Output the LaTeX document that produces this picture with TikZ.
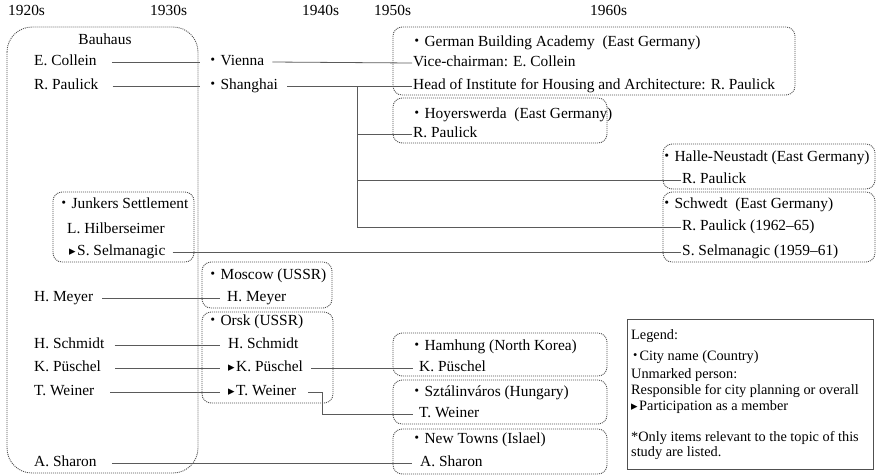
\documentclass[tikz,border=0pt]{standalone}
\usepackage{fontspec}
\setmainfont{Liberation Serif}
\newfontfamily\symfont{DejaVu Sans}
\newfontfamily\cjk{Noto Sans CJK JP}
\usepackage{tikz}
\definecolor{linegray}{RGB}{90,90,90}
\definecolor{boxgray}{RGB}{80,80,80}
\newcommand{\citydot}{{\cjk ・}}
\newcommand{\member}{{\symfont\fontsize{13}{13}\selectfont ▸}\hspace{1.5pt}}
\tikzset{
    every node/.style={inner sep=0pt, anchor=west, text height=10.5pt, text depth=3.5pt, font=\fontsize{15.4}{17}\selectfont},
    legendtext/.style={font=\fontsize{14.3}{16}\selectfont},
    link/.style={draw=linegray, line width=0.8pt},
    citybox/.style={draw=boxgray, line width=0.9pt, dash pattern=on 1pt off 1pt, rounded corners=9pt},
}

\begin{document}
\begin{tikzpicture}[x=1pt, y=-1pt]
    \useasboundingbox (0,0) rectangle (877,475);
% Decades
    \node (d20) at (8,12) {1920s};
    \node (d30) at (150,12) {1930s};
    \node (d40) at (302,12) {1940s};
    \node (d50) at (374,12) {1950s};
    \node (d60) at (590,12) {1960s};
% Boxes
    \draw[citybox, rounded corners=25pt] (7,27) rectangle (198,473);
    \draw[citybox] (53,192) rectangle (194,262);
    \draw[citybox] (393,27) rectangle (795,95);
    \draw[citybox] (393,98) rectangle (607,143);
    \draw[citybox] (663,144) rectangle (875,189);
    \draw[citybox] (663,192) rectangle (875,262);
    \draw[citybox] (202,262) rectangle (332,308);
    \draw[citybox] (202,312) rectangle (333,403);
    \draw[citybox] (393,333) rectangle (607,376);
    \draw[citybox] (393,380) rectangle (607,424);
    \draw[citybox] (393,429) rectangle (607,474);
% Bauhaus
    \node[anchor=center] (bauhaus) at (105,41) {Bauhaus};
    \node (collein) at (34,62) {E. Collein};
    \node (paulick) at (34,86) {R. Paulick};
    \node (junkers) at (56,205) {\citydot Junkers Settlement};
    \node (hilbers) at (67,230) {L. Hilberseimer};
    \node (selman) at (69,252) {\member S. Selmanagic};
    \node (meyer) at (34,298) {H. Meyer};
    \node (schmidt) at (34,345) {H. Schmidt};
    \node (puschel) at (34,368) {K. Püschel};
    \node (weiner) at (34,392) {T. Weiner};
    \node (sharon) at (34,463) {A. Sharon};
% 1930s and 1940s
    \node (vienna) at (205,62) {\citydot Vienna};
    \node (shanghai) at (205,86) {\citydot Shanghai};
    \node (moscow) at (205,276) {\citydot Moscow (USSR)};
    \node (mmeyer) at (227,298) {H. Meyer};
    \node (orsk) at (205,322) {\citydot Orsk (USSR)};
    \node (oschmidt) at (228,345) {H. Schmidt};
    \node (opuschel) at (228,368) {\member K. Püschel};
    \node (oweiner) at (228,392) {\member T. Weiner};
% 1950s and 1960s
    \node (academy) at (409,43) {\citydot German Building Academy\ \ (East Germany)};
    \node (vice) at (413,63) {Vice-chairman: E. Collein};
    \node (head) at (413,86) {Head of Institute for Housing and Architecture: R. Paulick};
    \node (hoyers) at (409,115) {\citydot Hoyerswerda\ \ (East Germany)};
    \node (hpaulick) at (413,134) {R. Paulick};
    \node (halle) at (659,158) {\citydot Halle-Neustadt (East Germany)};
    \node (npaulick) at (682,180) {R. Paulick};
    \node (schwedt) at (659,205) {\citydot Schwedt\ \ (East Germany)};
    \node (spaulick) at (682,227) {R. Paulick (1962–65)};
    \node (sselman) at (682,252) {S. Selmanagic (1959–61)};
    \node (hamhung) at (409,347) {\citydot Hamhung (North Korea)};
    \node (hpuschel) at (419,368) {K. Püschel};
    \node (sztalin) at (409,393) {\citydot Sztálinváros (Hungary)};
    \node (sweiner) at (419,414) {T. Weiner};
    \node (newtowns) at (409,440) {\citydot New Towns (Islael)};
    \node (nsharon) at (420,463) {A. Sharon};
% Connections
    \coordinate (fork) at (357,86);
    \draw[link] ([xshift=15]collein.east) -- ([xshift=-5]vienna.west);
    \draw[link] ([xshift=14]paulick.east) -- ([xshift=-5]shanghai.west);
    \draw[link] ([xshift=8]vienna.east) -- ([xshift=-1]vice.west);
    \draw[link] ([xshift=9]shanghai.east) -- ([xshift=-1]head.west);
    \draw[link] (fork) |- ([xshift=-1]hpaulick.west);
    \draw[link] (fork) |- ([xshift=-1]npaulick.west);
    \draw[link] (fork) |- ([xshift=-1]spaulick.west);
    \draw[link] ([xshift=7]selman.east) -- ([xshift=-1]sselman.west);
    \draw[link] ([xshift=9]meyer.east) -- ([xshift=-7]mmeyer.west);
    \draw[link] ([xshift=10]schmidt.east) -- ([xshift=-8]oschmidt.west);
    \draw[link] ([xshift=14]puschel.east) -- ([xshift=-8]opuschel.west);
    \draw[link] ([xshift=16]weiner.east) -- ([xshift=-8]oweiner.west);
    \draw[link] ([xshift=8]opuschel.east) -- ([xshift=-6]hpuschel.west);
    \draw[link] ([xshift=12]oweiner.east) -- ++(14,0) |- ([xshift=-6]sweiner.west);
    \draw[link] ([xshift=15]sharon.east) -- ([xshift=-8]nsharon.west);
% Legend
    \draw[draw=boxgray, line width=0.8pt] (627,319) rectangle (873,469);
    \node[legendtext] (lgtitle) at (631,336) {Legend:};
    \node[legendtext] (lgcity) at (628,357) {\citydot\hspace{-3pt}City name (Country)};
    \node[legendtext] (lgunmark) at (631,375) {Unmarked person:};
    \node[legendtext] (lgresp) at (631,391) {Responsible for city planning or overall};
    \node[legendtext] (lgmember) at (631,407) {\member Participation as a member};
    \node[legendtext] (lgnote) at (631,438) {*Only items relevant to the topic of this};
    \node[legendtext] (lgstudy) at (631,453) {study are listed.};
\end{tikzpicture}
\end{document}
